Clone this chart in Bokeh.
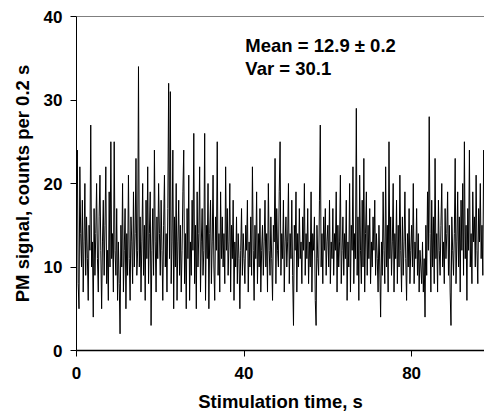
import numpy as np
from bokeh.plotting import figure
from bokeh.models import Range1d, FixedTicker, Span, Label
from bokeh.embed import file_html
from bokeh.resources import INLINE

# photon counts per 0.2 s bin (approximate)
counts_0_25s = [
    19, 24, 8, 5, 22, 14, 10, 18, 7, 13, 20, 9, 16, 11, 6, 15, 12, 27, 10, 13, 4, 17, 9, 14, 20,
    11, 7, 16, 21, 12, 5, 13, 18, 9, 15, 22, 8, 12, 6, 19, 10, 25, 11, 14, 7, 25, 12, 9, 17, 6,
    13, 8, 2, 15, 10, 20, 7, 12, 17, 5, 14, 9, 21, 11, 6, 16, 13, 8, 19, 10, 14, 23, 9, 12, 34,
    10, 16, 7, 13, 20, 9, 15, 6, 18, 11, 22, 8, 14, 19, 3, 12, 17, 9, 24, 13, 7, 16, 11, 20, 14,
    9, 18, 12, 6, 15, 21, 10, 14, 7, 17, 32, 11, 31, 8, 13, 24, 5, 16, 10, 20, 6, 13, 18, 9, 15,
]
counts_25_50s = [
    7, 12, 19, 24, 8, 14, 5, 17, 11, 21, 6, 13, 9, 18, 12, 26, 8, 15, 5, 19, 10, 14, 22, 7, 13,
    17, 9, 12, 26, 6, 15, 11, 20, 5, 14, 18, 8, 13, 21, 10, 6, 16, 12, 25, 9, 14, 7, 19, 11, 16,
    10, 14, 8, 22, 12, 17, 9, 13, 20, 7, 15, 11, 18, 6, 13, 10, 16, 8, 14, 11, 5, 12, 17, 9, 14,
    11, 8, 15, 12, 18, 7, 13, 10, 16, 9, 22, 12, 6, 15, 11, 19, 8, 14, 10, 17, 7, 12, 15, 9, 13,
    18, 10, 14, 7, 20, 12, 9, 16, 11, 6, 15, 13, 23, 8, 17, 12, 10, 19, 25, 9, 14, 11, 18, 7, 13,
]
counts_50_75s = [
    16, 10, 13, 20, 8, 14, 11, 18, 9, 3, 15, 12, 19, 7, 14, 10, 17, 11, 13, 8, 16, 12, 20, 9, 14,
    11, 17, 8, 13, 10, 19, 7, 14, 12, 16, 6, 3, 15, 11, 9, 18, 27, 10, 14, 8, 16, 12, 17, 9, 13,
    15, 10, 18, 8, 13, 11, 17, 9, 14, 12, 19, 7, 15, 10, 13, 21, 8, 12, 16, 9, 14, 11, 18, 6, 13,
    10, 20, 7, 15, 12, 22, 8, 14, 11, 29, 9, 16, 6, 21, 12, 8, 18, 10, 23, 7, 14, 19, 9, 15, 11,
    17, 8, 13, 10, 16, 12, 18, 9, 14, 11, 7, 15, 10, 4, 13, 9, 19, 12, 8, 22, 10, 15, 7, 25, 11,
]
counts_75_100s = [
    16, 9, 13, 20, 7, 14, 11, 18, 8, 15, 10, 21, 12, 7, 16, 9, 13, 19, 11, 6, 14, 10, 17, 8, 12,
    15, 10, 20, 8, 13, 11, 17, 9, 14, 7, 12, 10, 8, 13, 7, 11, 4, 15, 9, 19, 12, 28, 14, 7, 18,
    10, 16, 8, 23, 11, 14, 7, 18, 12, 9, 15, 20, 10, 13, 8, 17, 11, 14, 19, 9, 15, 7, 3, 16, 12,
    9, 14, 23, 8, 13, 19, 10, 16, 7, 18, 12, 20, 9, 25, 11, 15, 6, 17, 12, 24, 10, 14, 8, 19, 13,
    16, 10, 21, 12, 8, 17, 13, 20, 11, 15, 9, 24, 14, 18, 11, 16, 10, 13, 19, 12, 15, 9, 14, 17, 12,
]
bin_width_s = 0.2

x_ticks = [0, 40, 80]
y_ticks = [0, 10, 20, 30, 40]
x_title = "Stimulation time, s"
y_title = "PM signal, counts per 0.2 s"
stat_lines = ["Mean = 12.9 \u00b1 0.2", "Var = 30.1"]

counts = counts_0_25s + counts_25_50s + counts_50_75s + counts_75_100s
times = np.arange(len(counts)) * bin_width_s

FONT = "Liberation Sans"

p = figure(width=484, height=414, output_backend="svg", toolbar_location=None,
           x_range=Range1d(0, 97.4), y_range=Range1d(0, 40),
           min_border_left=76, min_border_right=0, min_border_top=16, min_border_bottom=64)
p.outline_line_color = None
p.grid.visible = False
p.background_fill_color = "white"
p.border_fill_color = "white"

p.line(times, counts, line_color="black", line_width=1)

p.xaxis.ticker = FixedTicker(ticks=x_ticks)
p.yaxis.ticker = FixedTicker(ticks=y_ticks)
p.xaxis.axis_label = x_title
p.yaxis.axis_label = y_title
for ax in (p.xaxis, p.yaxis):
    ax.minor_tick_line_color = None
    ax.major_tick_in = 0
    ax.major_tick_out = 6
    ax.major_tick_line_color = "black"
    ax.axis_line_color = "black"
    ax.major_label_text_font = FONT
    ax.major_label_text_font_style = "bold"
    ax.major_label_text_font_size = "17px"
    ax.major_label_text_color = "black"
    ax.major_label_text_line_height = 1.0
    ax.axis_label_text_font = FONT
    ax.axis_label_text_font_style = "bold"
    ax.axis_label_text_font_size = "18.5px"
    ax.axis_label_text_color = "black"
    ax.axis_label_text_line_height = 1.0
p.xaxis.axis_line_width = 1.5
p.xaxis.major_label_standoff = 10
p.xaxis.axis_label_standoff = 9
p.yaxis.major_label_standoff = 8
p.yaxis.axis_label_standoff = 8

p.add_layout(Span(location=40, dimension="width", line_color="black", line_width=1))

p.add_layout(Label(x=40.3, y=36.5, text=stat_lines[0], text_font=FONT, text_font_style="bold",
                   text_font_size="18.5px", text_color="black", text_baseline="alphabetic"))
p.add_layout(Label(x=40.3, y=33.8, text=stat_lines[1], text_font=FONT, text_font_style="bold",
                   text_font_size="18.5px", text_color="black", text_baseline="alphabetic"))

open("out.html", "w").write(file_html(p, INLINE))
